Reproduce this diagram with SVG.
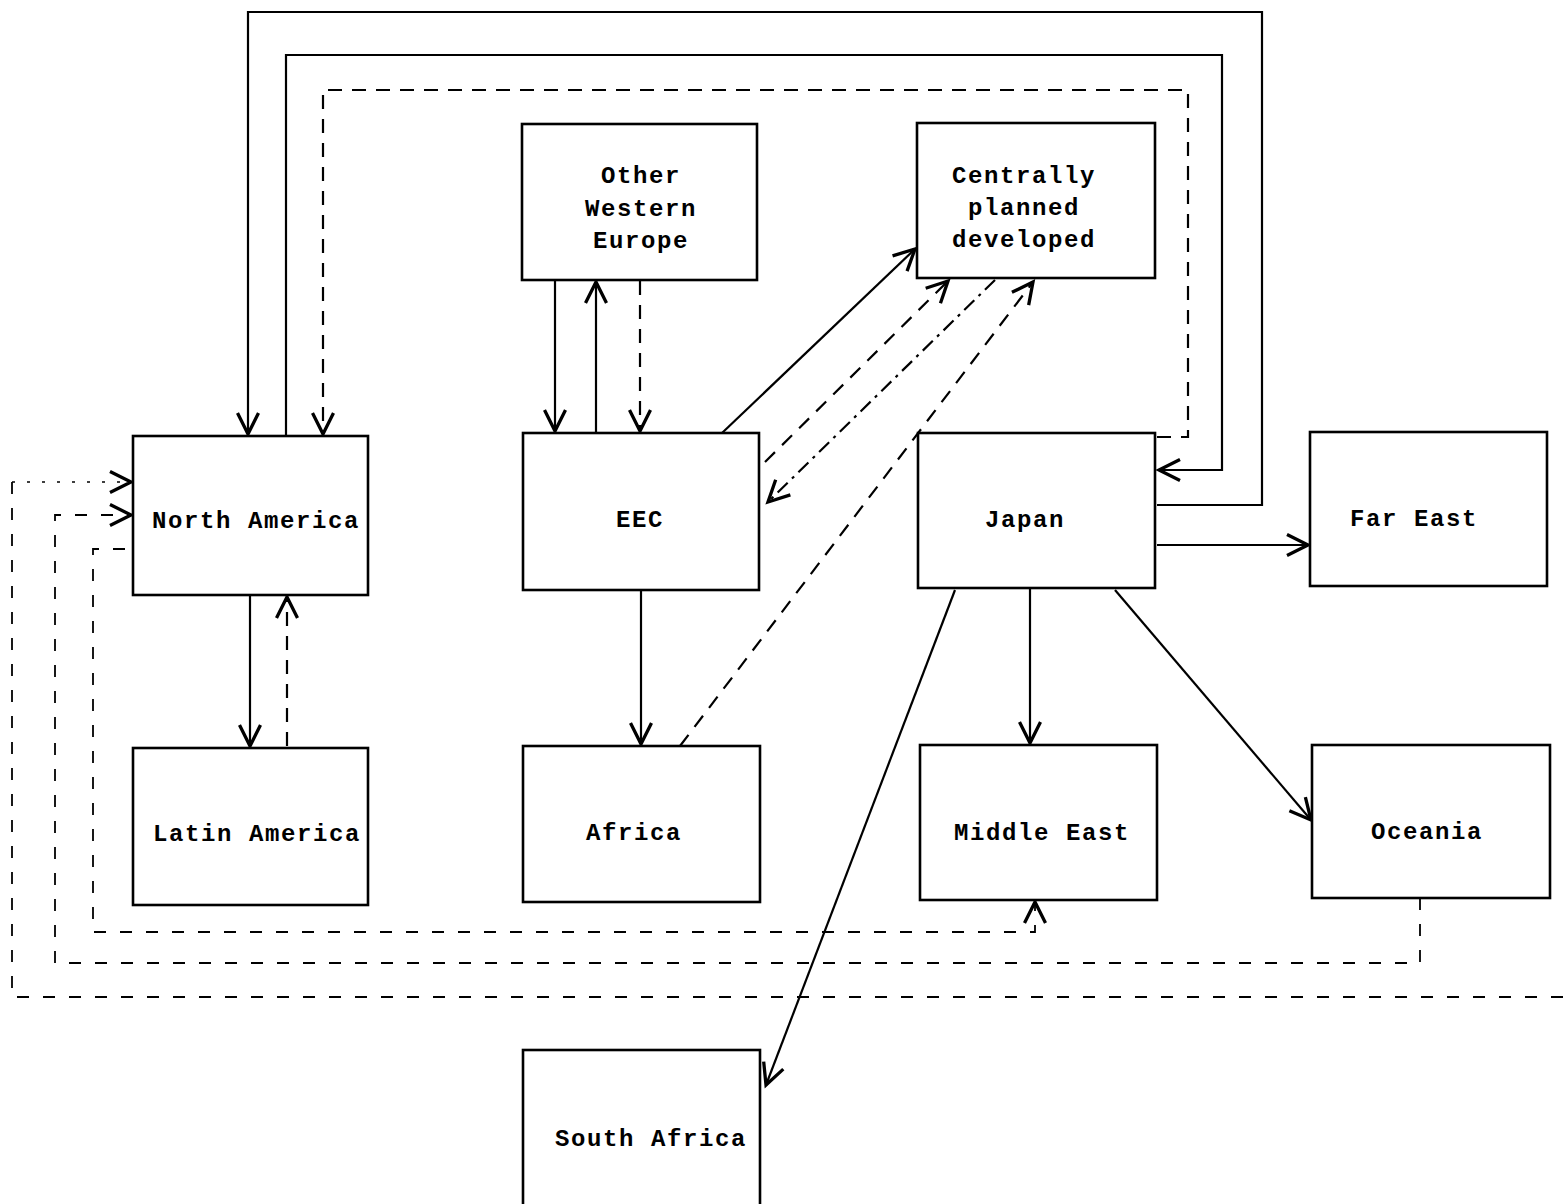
<svg xmlns="http://www.w3.org/2000/svg" width="1563" height="1204" viewBox="0 0 1563 1204">
<style>
.box{fill:#fff;stroke:#000;stroke-width:2.6}
.lbl{font-family:"Liberation Mono","DejaVu Sans Mono",monospace;font-weight:bold;font-size:24px;letter-spacing:1.6px;text-anchor:middle;fill:#000}
.c{fill:none;stroke:#000;stroke-width:2.2}
.d{stroke-dasharray:14 10}
.dd{stroke-dasharray:14 6 3 6}
.ld{stroke-dasharray:12 14;stroke-width:1.8}
.f{stroke-dasharray:3 12;stroke-width:1.4}
</style>
<defs>
<marker id="a" markerUnits="userSpaceOnUse" markerWidth="30" markerHeight="30" refX="0" refY="0" viewBox="-16 -10 18 20" orient="auto">
<path d="M-14,-7 L0,0 L-14,7" fill="none" stroke="#000" stroke-width="2.2"/>
</marker>
</defs>
<rect width="1563" height="1204" fill="#fff"/>
<g id="connectors">
<path class="c" d="M1157,505 H1262 V12 H248 V434" marker-end="url(#a)"/>
<path class="c" d="M286,436 V55 H1222 V470 H1159" marker-end="url(#a)"/>
<path class="c d" d="M1157,437 H1188 V90 H323 V434" marker-end="url(#a)"/>
<path class="c" d="M555,281 V431" marker-end="url(#a)"/>
<path class="c" d="M596,433 V282" marker-end="url(#a)"/>
<path class="c d" d="M640,281 V431" marker-end="url(#a)"/>
<path class="c" d="M722,433 L915,249" marker-end="url(#a)"/>
<path class="c d" d="M765,462 L948,281" marker-end="url(#a)"/>
<path class="c dd" d="M995,280 L768,502" marker-end="url(#a)"/>
<path class="c d" d="M680,746 L1033,282" marker-end="url(#a)"/>
<path class="c" d="M250,595 V746" marker-end="url(#a)"/>
<path class="c d" d="M287,746 V597" marker-end="url(#a)"/>
<path class="c" d="M641,590 V744" marker-end="url(#a)"/>
<path class="c" d="M1157,545 H1308" marker-end="url(#a)"/>
<path class="c" d="M1030,588 V743" marker-end="url(#a)"/>
<path class="c" d="M1115,590 L1311,820" marker-end="url(#a)"/>
<path class="c" d="M955,590 L766,1085" marker-end="url(#a)"/>
<path class="c ld" d="M125,549 H93 V932 H1035 V902" marker-end="url(#a)"/>
<path class="c ld" d="M1420,898 V963 H55 V515 H131" marker-end="url(#a)"/>
<path class="c ld" d="M1563,997 H12 V482"/>
<path class="c f" d="M12,482 H131" marker-end="url(#a)"/>
</g>
<g id="north-america"><rect class="box" x="133" y="436" width="235" height="159"/><text class="lbl" x="256" y="528">North America</text></g>
<g id="latin-america"><rect class="box" x="133" y="748" width="235" height="157"/><text class="lbl" x="257" y="841">Latin America</text></g>
<g id="other-western-europe"><rect class="box" x="522" y="124" width="235" height="156"/><text class="lbl" x="641" y="183">Other</text><text class="lbl" x="641" y="216">Western</text><text class="lbl" x="641" y="248">Europe</text></g>
<g id="eec"><rect class="box" x="523" y="433" width="236" height="157"/><text class="lbl" x="640" y="527">EEC</text></g>
<g id="africa"><rect class="box" x="523" y="746" width="237" height="156"/><text class="lbl" x="634" y="840">Africa</text></g>
<g id="centrally-planned"><rect class="box" x="917" y="123" width="238" height="155"/><text class="lbl" x="1024" y="183">Centrally</text><text class="lbl" x="1024" y="215">planned</text><text class="lbl" x="1024" y="247">developed</text></g>
<g id="japan"><rect class="box" x="918" y="433" width="237" height="155"/><text class="lbl" x="1025" y="527">Japan</text></g>
<g id="far-east"><rect class="box" x="1310" y="432" width="237" height="154"/><text class="lbl" x="1414" y="526">Far East</text></g>
<g id="middle-east"><rect class="box" x="920" y="745" width="237" height="155"/><text class="lbl" x="1042" y="840">Middle East</text></g>
<g id="oceania"><rect class="box" x="1312" y="745" width="238" height="153"/><text class="lbl" x="1427" y="839">Oceania</text></g>
<g id="south-africa"><rect class="box" x="523" y="1050" width="237" height="170"/><text class="lbl" x="651" y="1146">South Africa</text></g>
</svg>
